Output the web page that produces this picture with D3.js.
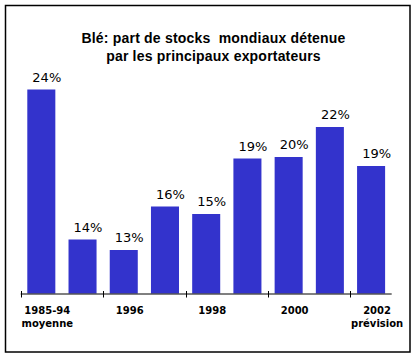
<!DOCTYPE html>
<html><head><meta charset="utf-8">
<script src="https://cdn.jsdelivr.net/npm/d3@7"></script>
<style>html,body{margin:0;padding:0;background:#fff;}</style>
</head><body>
<script>
const categories = ["1985-94", "1995", "1996", "1997", "1998", "1999", "2000", "2001", "2002"];
const values = [24.0, 14.0, 13.3, 16.2, 15.7, 19.4, 19.5, 21.5, 18.9];
const valueLabels = ["24%", "14%", "13%", "16%", "15%", "19%", "20%", "22%", "19%"];
const tickLabels = [["1985-94", "moyenne"], ["1996"], ["1998"], ["2000"], ["2002", "prévision"]];
const tickLabelIndex = [0, 2, 4, 6, 8];
const titleLines = ["Blé: part de stocks  mondiaux détenue", "par les principaux exportateurs"];

const W = 413, H = 356;
const svg = d3.select("body").append("svg").attr("width", W).attr("height", H);
svg.append("rect").attr("width", W).attr("height", H).attr("fill", "#fff");
svg.append("rect").attr("x", 5.5).attr("y", 5.5).attr("width", 404.5).attr("height", 346.5)
  .attr("fill", "none").attr("stroke", "#000").attr("stroke-width", 1.5);

const baseY = 293.5;
const x = d3.scaleBand().domain(categories).range([20.7, 391.7]).paddingInner(0.32).paddingOuter(0.16);
const y = d3.scaleLinear().domain([10.4, 24]).range([baseY, 89.5]);

svg.selectAll("text.title").data(titleLines).enter().append("text")
  .attr("x", 213.5).attr("y", (d, i) => 42.5 + i * 18)
  .attr("text-anchor", "middle")
  .style("white-space", "pre")
  .attr("font-family", "'Liberation Sans', Arial, sans-serif")
  .attr("font-weight", "bold").attr("font-size", "14px").attr("letter-spacing", "0.2px")
  .attr("fill", "#000").text(d => d);

svg.selectAll("rect.bar").data(values).enter().append("rect")
  .attr("x", (d, i) => x(categories[i]))
  .attr("y", d => y(d))
  .attr("width", x.bandwidth())
  .attr("height", d => baseY - y(d))
  .attr("fill", "#3333CC");

svg.selectAll("text.val").data(values).enter().append("text")
  .attr("x", (d, i) => x(categories[i]) + x.bandwidth() / 2 + 5.5)
  .attr("y", d => y(d) - 8)
  .attr("text-anchor", "middle")
  .attr("font-family", "'DejaVu Sans', Verdana, sans-serif")
  .attr("font-size", "13px").attr("fill", "#000")
  .text((d, i) => valueLabels[i]);

// axis
const ax = svg.append("g");
ax.append("line").attr("x1", x.range()[0]).attr("x2", x.range()[1])
  .attr("y1", baseY + 0.5).attr("y2", baseY + 0.5).attr("stroke", "#000").attr("stroke-width", 1);
const step = x.step();
tickLabelIndex.forEach((ci, k) => {
  const tx = Math.round(x.range()[0] + ci * step) + 0.5;
  ax.append("line").attr("x1", tx).attr("x2", tx).attr("y1", baseY - 2.5).attr("y2", baseY + 4)
    .attr("stroke", "#000").attr("stroke-width", 1);
  const cx = x(categories[ci]) + x.bandwidth() / 2 + 6;
  tickLabels[k].forEach((t, j) => {
    ax.append("text").attr("x", cx).attr("y", 313.5 + j * 13)
      .attr("text-anchor", "middle")
      .attr("font-family", "'DejaVu Sans', Verdana, sans-serif")
      .attr("font-weight", "bold").attr("font-size", "10px").attr("fill", "#000")
      .text(t);
  });
});
</script>
</body></html>
